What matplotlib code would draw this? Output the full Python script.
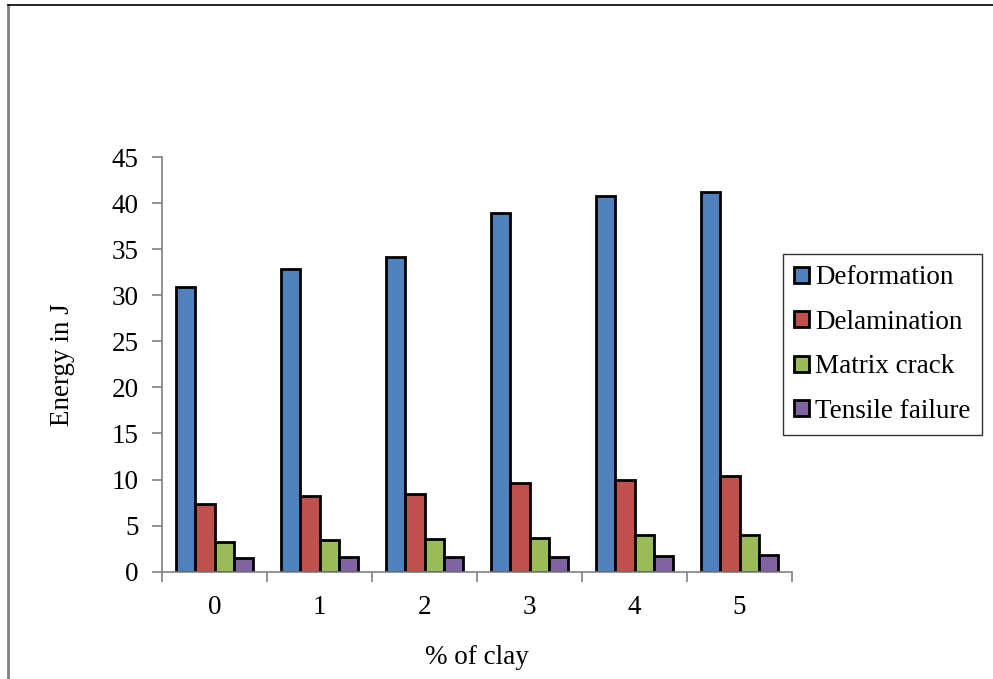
import matplotlib.pyplot as plt
import numpy as np
from matplotlib.lines import Line2D

# % of clay
clay = ['0', '1', '2', '3', '4', '5']

# energy values (J)
deformation = [30.9, 32.85, 34.2, 38.9, 40.8, 41.2]
delamination = [7.3, 8.25, 8.4, 9.6, 10.0, 10.4]
matrix_crack = [3.25, 3.4, 3.55, 3.7, 3.95, 4.0]
tensile_failure = [1.5, 1.55, 1.6, 1.6, 1.75, 1.8]

series = [deformation, delamination, matrix_crack, tensile_failure]
names = ['Deformation', 'Delamination', 'Matrix crack', 'Tensile failure']
colors = ['#4F81BD', '#C0504D', '#9BBB59', '#8064A2']

plt.rcParams['font.family'] = ['Liberation Serif', 'DejaVu Serif']
fs = 19.5

fig = plt.figure(figsize=(9.93, 6.79), dpi=100)
ax = fig.add_axes([162/993, 1 - 571.7/679, 630/993, 414.7/679])

x = np.arange(len(clay))
w = 0.183
for i, (vals, name, c) in enumerate(zip(series, names, colors)):
    ax.bar(x + (i - 1.5) * w, vals, w, color=c, edgecolor='black',
           linewidth=2, label=name)

ax.set_xlim(-0.5, len(clay) - 0.5)
ax.set_ylim(0, 45)
ax.set_yticks(range(0, 50, 5))
ax.set_xticks(np.arange(-0.5, len(clay), 1.0))
ax.set_xticklabels([])
ax.set_xticks(x, minor=True)
ax.set_xticklabels(clay, minor=True)
ax.tick_params(axis='x', which='minor', length=0, pad=17, labelsize=fs)
ax.tick_params(axis='x', which='major', length=7, color='#808080', width=1.2)
ax.tick_params(axis='y', length=7, color='#808080', width=1.2, pad=10, labelsize=fs)

for s in ['top', 'right']:
    ax.spines[s].set_visible(False)
for s in ['left', 'bottom']:
    ax.spines[s].set_color('#808080')
    ax.spines[s].set_linewidth(1.2)

ax.set_ylabel('Energy in J', fontsize=fs, labelpad=26)
ax.set_xlabel('% of clay', fontsize=fs, labelpad=18)

leg = fig.legend(loc='upper left', bbox_to_anchor=(783/993, 1 - 254/679),
                 fontsize=fs, frameon=True, fancybox=False, edgecolor='black',
                 handlelength=0.55, handleheight=0.55, handletextpad=0.22,
                 labelspacing=0.72, borderpad=0.42, borderaxespad=0)
leg.get_frame().set_linewidth(1.0)

# outer frame of the chart area
fig.add_artist(Line2D([8/993, 8/993], [0, 1 - 5/679], transform=fig.transFigure,
                      color='#808080', linewidth=2))
fig.add_artist(Line2D([8/993, 1], [1 - 5/679, 1 - 5/679], transform=fig.transFigure,
                      color='black', linewidth=1.2))

fig.savefig('out.png', dpi=100)
